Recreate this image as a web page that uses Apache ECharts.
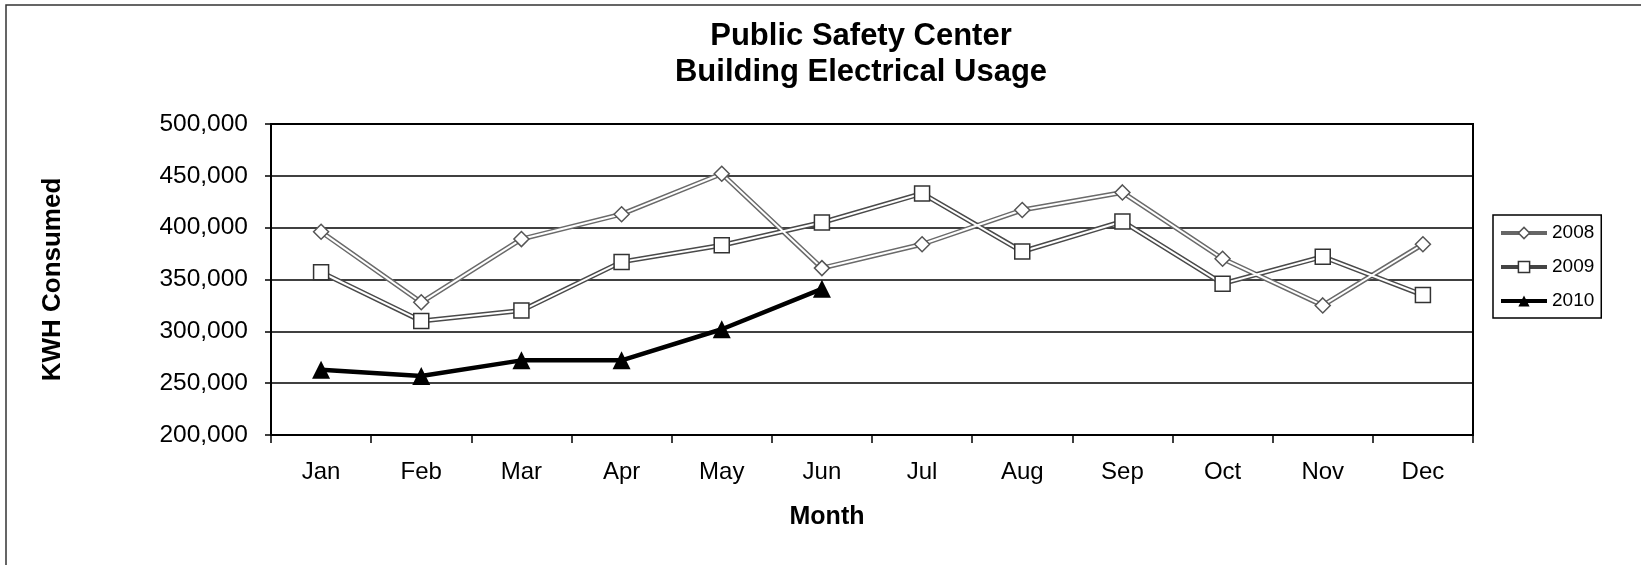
<!DOCTYPE html>
<html>
<head>
<meta charset="utf-8">
<title>Public Safety Center - Building Electrical Usage</title>
<script src="https://cdn.jsdelivr.net/npm/echarts@6/dist/echarts.min.js"></script>
<style>
  html, body { margin: 0; padding: 0; background: #fff; }
  #chart { width: 1641px; height: 565px; }
</style>
</head>
<body>
<div id="chart"></div>
<script>
// months on the x axis
const months = ["Jan", "Feb", "Mar", "Apr", "May", "Jun", "Jul", "Aug", "Sep", "Oct", "Nov", "Dec"];

// kWh per month
const kwh2008 = [396000, 328000, 389000, 413000, 452000, 361000, 384000, 417000, 434000, 370000, 325000, 384000];
const kwh2009 = [357000, 310000, 320000, 367000, 383000, 405000, 433000, 377000, 406000, 346000, 372000, 335000];
const kwh2010 = [263000, 257000, 272000, 272000, 302000, 341000];

const yMin = 200000;
const yMax = 500000;
const yStep = 50000;

const FONT = "'Liberation Sans', Arial, sans-serif";

const chart = echarts.init(document.getElementById("chart"), null, { renderer: "canvas" });

// scanned-look lines: a dark outline under a thin white core
const outlineSeries = (name, data, color) => ({
  name: name + "-outline",
  type: "line",
  data: data,
  showSymbol: false,
  silent: true,
  z: 2,
  lineStyle: { color: color, width: 5 },
  emphasis: { disabled: true },
});

const hollowSeries = (name, data, symbol, size, color) => ({
  name: name,
  type: "line",
  data: data,
  symbol: symbol,
  symbolSize: size,
  showAllSymbol: true,
  z: 3,
  lineStyle: { color: "#fff", width: 2 },
  itemStyle: { color: "#fff", borderColor: color, borderWidth: 1.5 },
  emphasis: { disabled: true },
});

chart.setOption({
  animation: false,
  backgroundColor: "#fff",
  textStyle: { fontFamily: FONT, color: "#000" },
  graphic: [
    {
      type: "rect",
      shape: { x: 6, y: 5, width: 1700, height: 700 },
      style: { fill: "none", stroke: "#333", lineWidth: 1.5 },
      silent: true,
    },
    {
      type: "text",
      x: 861,
      y: 18,
      style: {
        text: "Public Safety Center\nBuilding Electrical Usage",
        font: "bold 31px " + FONT,
        fill: "#000",
        textAlign: "center",
        textVerticalAlign: "top",
        lineHeight: 36.5,
      },
    },
  ],
  legend: {
    orient: "vertical",
    left: 1493,
    top: 215,
    padding: [8, 7, 7, 6],
    itemWidth: 46,
    itemHeight: 14,
    itemGap: 14,
    borderColor: "#000",
    borderWidth: 1.5,
    backgroundColor: "#fff",
    textStyle: { fontSize: 19, lineHeight: 20, color: "#000", fontFamily: FONT },
    data: [
      { name: "2008", lineStyle: { color: "#666", width: 4 }, itemStyle: { color: "#fff", borderColor: "#555", borderWidth: 1.5 } },
      { name: "2009", lineStyle: { color: "#444", width: 4 }, itemStyle: { color: "#fff", borderColor: "#333", borderWidth: 1.5 } },
      { name: "2010", lineStyle: { color: "#000", width: 4 }, itemStyle: { color: "#000" } },
    ],
  },
  grid: {
    left: 271,
    right: 168,
    top: 124,
    bottom: 130,
    show: true,
    borderColor: "#000",
    borderWidth: 2,
    backgroundColor: "#fff",
  },
  xAxis: {
    type: "category",
    data: months,
    boundaryGap: true,
    name: "Month",
    nameLocation: "middle",
    nameGap: 70,
    nameTextStyle: { fontSize: 25, fontWeight: "bold", color: "#000", fontFamily: FONT, padding: [0, 90, 0, 0] },
    axisLine: { lineStyle: { color: "#000", width: 2 } },
    axisTick: { show: true, length: 8, lineStyle: { color: "#000", width: 1.5 } },
    axisLabel: { fontSize: 24, color: "#000", margin: 25, fontFamily: FONT },
    splitLine: { show: false },
  },
  yAxis: {
    type: "value",
    min: yMin,
    max: yMax,
    interval: yStep,
    name: "KWH Consumed",
    nameLocation: "middle",
    nameGap: 205,
    nameRotate: 90,
    nameTextStyle: { fontSize: 26, fontWeight: "bold", color: "#000", fontFamily: FONT },
    axisLine: { show: true, lineStyle: { color: "#000", width: 2 } },
    axisTick: { show: true, length: 6, lineStyle: { color: "#000", width: 1.5 } },
    axisLabel: {
      fontSize: 24.5,
      color: "#000",
      margin: 23,
      fontFamily: FONT,
      formatter: (v) => v.toLocaleString("en-US"),
    },
    splitLine: { show: true, lineStyle: { color: "#000", width: 1.5 } },
  },
  series: [
    outlineSeries("2008", kwh2008, "#6a6a6a"),
    outlineSeries("2009", kwh2009, "#4a4a4a"),
    hollowSeries("2008", kwh2008, "diamond", 15, "#555"),
    hollowSeries("2009", kwh2009, "rect", 15, "#333"),
    {
      name: "2010",
      type: "line",
      data: kwh2010,
      symbol: "triangle",
      symbolSize: 18,
      z: 4,
      lineStyle: { color: "#000", width: 4.5 },
      itemStyle: { color: "#000" },
      emphasis: { disabled: true },
    },
  ],
});
</script>
</body>
</html>
